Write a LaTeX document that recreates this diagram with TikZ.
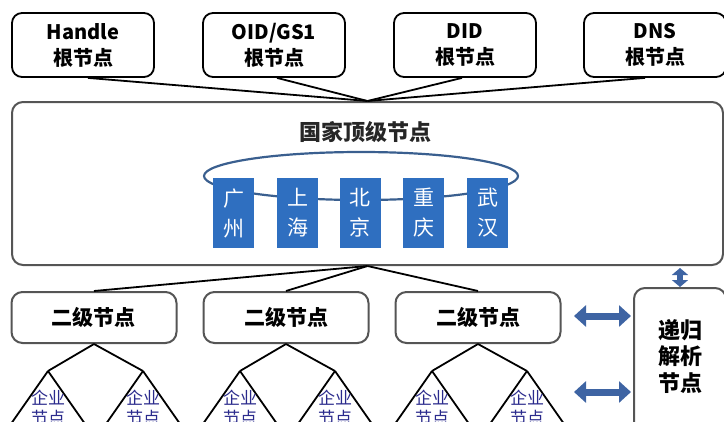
\documentclass[tikz,border=0pt]{standalone}
\usepackage{fontspec}
\setmainfont{Noto Sans CJK SC}
\usetikzlibrary{arrows.meta,calc}
\definecolor{cityblue}{HTML}{2F6FC0}
\definecolor{ringblue}{HTML}{3A5F8F}
\definecolor{arrowblue}{HTML}{3E64A3}
\definecolor{boxgray}{HTML}{555555}
\definecolor{entblue}{HTML}{2A2A8C}
\begin{document}
\begin{tikzpicture}[x=1pt,y=-1pt,
  rootbox/.style={draw=black, line width=1.8pt, rounded corners=10pt, minimum width=142pt, minimum height=64pt, align=center, inner sep=0pt, font=\fontsize{20}{26}\selectfont\bfseries},
  graybox/.style={draw=boxgray, line width=2pt, rounded corners=11pt, inner sep=0pt},
  secbox/.style={graybox, minimum width=165pt, minimum height=51pt, font=\fontsize{21}{26}\selectfont\bfseries},
  citybox/.style={fill=cityblue, text=white, minimum width=41pt, minimum height=70pt, inner sep=0pt, align=center, font=\fontsize{21}{30}\selectfont},
  conn/.style={draw=black, line width=1.8pt},
  enttext/.style={text=entblue, align=center, inner sep=0pt, font=\fontsize{17}{20}\selectfont},
  hdbl/.style={draw=arrowblue, line width=7pt, {Triangle[width=21pt,length=12pt]}-{Triangle[width=21pt,length=12pt]}},
  vdbl/.style={draw=arrowblue, line width=6pt, {Triangle[width=16pt,length=7pt]}-{Triangle[width=16pt,length=7pt]}}
]
\useasboundingbox (0,0) rectangle (724,421);
\clip (0,0) rectangle (724,421);

% root nodes
\node[rootbox] (handle) at (83,45) {Handle\\根节点};
\node[rootbox] (oid) at (274,45) {OID/GS1\\根节点};
\node[rootbox] (did) at (465,45) {DID\\根节点};
\node[rootbox] (dns) at (655,45) {DNS\\根节点};

% top level box
\node[graybox, minimum width=711pt, minimum height=163pt] (big) at (367.5,183.5) {};
\node[font=\fontsize{22}{26}\selectfont\bfseries, text=black!85] (title) at (365,132) {国家顶级节点};

\draw[conn] ([xshift=5pt]handle.south) -- (big.north);
\draw[conn] ([xshift=3pt]oid.south) -- (big.north);
\draw[conn] ([xshift=-3pt]did.south) -- (big.north);
\draw[conn] ([xshift=-10pt]dns.south) -- (big.north);

% ring and cities
\draw[ringblue, line width=2.2pt] (361,176) ellipse [x radius=157pt, y radius=24pt];
\node[citybox] (gz) at (233.5,213) {广\\州};
\node[citybox] (sh) at (297.5,213) {上\\海};
\node[citybox] (bj) at (360,213) {北\\京};
\node[citybox] (cq) at (423.5,213) {重\\庆};
\node[citybox] (wh) at (487.5,213) {武\\汉};

% second level
\node[secbox] (s1) at (94,317.5) {二级节点};
\node[secbox] (s2) at (286,317.5) {二级节点};
\node[secbox] (s3) at (478,317.5) {二级节点};
\draw[conn] (big.south) -- (s1.north);
\draw[conn] (big.south) -- (s2.north);
\draw[conn] (big.south) -- (s3.north);

% recursive node
\node[graybox, minimum width=92pt, minimum height=160pt] (rec) at (680,368) {};
\node[align=center, inner sep=0pt, font=\fontsize{22}{26.5}\selectfont\bfseries] (rectext) at (680,356) {递归\\解析\\节点};

% arrows
\draw[vdbl] (big.south -| rec.north) ++(0,2) coordinate (vtop) (vtop) -- (rec.north);
\coordinate (h1a) at (574,316);
\coordinate (h1b) at (631,316);
\coordinate (h2a) at (574,392);
\coordinate (h2b) at (631,392);
\draw[hdbl] (h1a) -- (h1b);
\draw[hdbl] (h2a) -- (h2b);

% enterprise triangles
\foreach \s/\c in {s1/94, s2/286, s3/478}{
  \coordinate (\s L) at (\c-46,371);
  \coordinate (\s R) at (\c+49,371);
  \draw[conn] (\s.south) -- (\s L);
  \draw[conn] (\s.south) -- (\s R);
  \draw[conn] (\s L) -- ++(-49,70);
  \draw[conn] (\s L) -- ++(49,70);
  \draw[conn] (\s R) -- ++(-49,70);
  \draw[conn] (\s R) -- ++(49,70);
  \node[enttext] (\s Lt) at ($(\s L)+(0,37)$) {企业\\节点};
  \node[enttext] (\s Rt) at ($(\s R)+(0,37)$) {企业\\节点};
}
\end{tikzpicture}
\end{document}
